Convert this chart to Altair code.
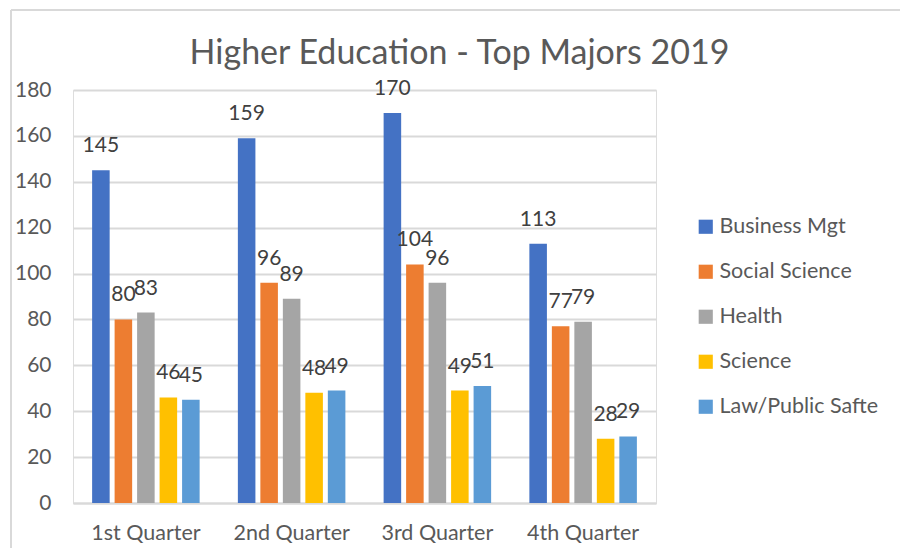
import altair as alt
import pandas as pd

quarters = ["1st Quarter", "2nd Quarter", "3rd Quarter", "4th Quarter"]
majors = ["Business Mgt", "Social Science", "Health", "Science", "Law/Public Safte"]
business = [145, 159, 170, 113]
social = [80, 96, 104, 77]
health = [83, 89, 96, 79]
science = [46, 48, 49, 28]
law = [45, 49, 51, 29]
colors = ["#4472C4", "#ED7D31", "#A5A5A5", "#FFC000", "#5B9BD5"]

series = [business, social, health, science, law]
rows = []
for m, vals in zip(majors, series):
    for q, v in zip(quarters, vals):
        rows.append({"Quarter": q, "Major": m, "Value": v})
df = pd.DataFrame(rows)

FONT = "Lato"
W, H = 583, 413
PL, PT = 73, 90

base = alt.Chart(df).encode(
    x=alt.X("Quarter:N", sort=quarters,
            scale=alt.Scale(paddingInner=0, paddingOuter=0),
            axis=alt.Axis(title=None, labelAngle=0, labelFontSize=21.5, labelColor="#595959",
                          labelFont=FONT, domainColor="#d9d9d9", domainWidth=2, ticks=False,
                          labelPadding=19, grid=False)),
    xOffset=alt.XOffset("Major:N", sort=majors,
                        scale=alt.Scale(paddingInner=0.22, paddingOuter=0.85)),
    y=alt.Y("Value:Q", scale=alt.Scale(domain=[0, 180]),
            axis=alt.Axis(title=None, values=list(range(0, 181, 20)), labelFontSize=21,
                          labelColor="#595959", labelFont=FONT, domain=False, ticks=False,
                          labelPadding=22, gridColor="#d9d9d9", gridWidth=2)),
)

bars = base.mark_bar().encode(
    color=alt.Color("Major:N", sort=majors, scale=alt.Scale(domain=majors, range=colors),
                    legend=alt.Legend(title=None, orient="none", legendX=622, legendY=126,
                                      symbolType="square", symbolSize=200, symbolStrokeWidth=0,
                                      labelFontSize=21.5, labelFont=FONT, labelColor="#595959",
                                      rowPadding=22, labelOffset=3, symbolOpacity=1))
)

labels = base.mark_text(dy=-24, fontSize=21, font=FONT, color="#404040").encode(
    text=alt.Text("Value:Q")
)

frame_top = alt.Chart(df).mark_rule(color="#d9d9d9", strokeWidth=1.5).encode(
    x=alt.value(-62), x2=alt.value(900), y=alt.value(-80)
)
frame_left = alt.Chart(df).mark_rule(color="#d9d9d9", strokeWidth=1.5).encode(
    x=alt.value(-62), y=alt.value(-80), y2=alt.value(H + 60)
)

chart = alt.layer(frame_top, frame_left, bars, labels).properties(
    width=W, height=H,
    title=alt.TitleParams("Higher Education - Top Majors 2019", fontSize=34, font=FONT,
                          color="#595959", fontWeight="normal", dx=95, dy=84, offset=22),
    autosize=alt.AutoSizeParams(type="none"),
    padding={"left": PL, "top": PT, "right": 900 - PL - W, "bottom": 548 - PT - H},
).configure_view(stroke=None).configure(background="white")

chart.save("out.html", embed_options={"renderer": "svg", "actions": False})
